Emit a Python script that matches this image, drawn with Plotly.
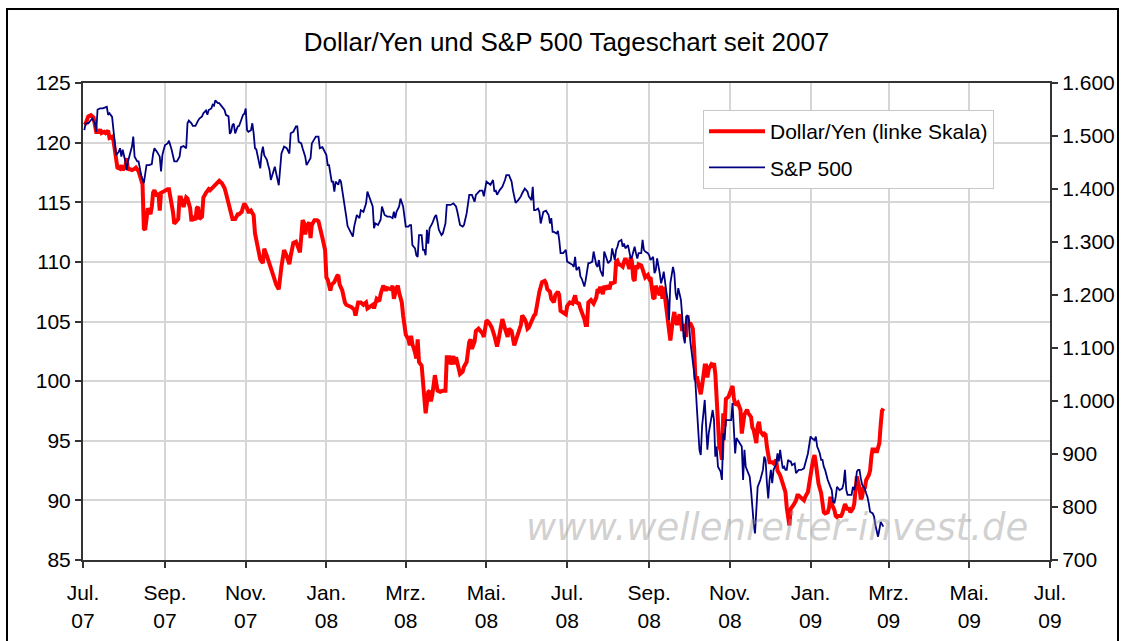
import pandas as pd
import plotly.graph_objects as go

# ---- data ----
start_date = "2007-07-01"

yen_day = [1, 2, 4, 6, 8, 9, 10, 12, 13, 14, 16, 17, 19, 20, 22, 23, 24, 25, 26, 28, 29, 30, 32, 33, 34, 35, 37, 39, 40, 42,
           43, 44, 45, 46, 47, 48, 49, 51, 52, 53, 54, 56, 57, 58, 59, 61, 62, 64, 65, 66, 68, 69, 71, 72, 73, 74, 76, 78, 79, 81,
           82, 83, 85, 86, 87, 88, 90, 91, 93, 95, 96, 97, 98, 100, 101, 102, 103, 105, 106, 107, 108, 110, 111, 112, 113, 115, 116, 117, 118, 120,
           121, 122, 124, 125, 126, 127, 129, 130, 132, 134, 136, 137, 139, 141, 142, 144, 146, 148,
           150, 152, 154, 156, 157, 159, 161, 162, 164, 165, 166, 167, 168, 169, 171, 172, 173, 175, 177, 178, 179, 181, 183, 184, 185, 187,
           188, 190, 192, 193, 194, 196, 198, 199, 201, 203, 205, 206, 208, 210, 212, 214, 215, 217, 219, 220, 222, 224, 225, 227, 229, 230,
           233, 234, 235, 237, 238, 239, 241, 242, 244, 246, 247, 248, 249, 251, 252, 253, 254, 256, 257, 258, 259, 261, 262, 263, 264, 266,
           267, 268, 270, 272, 274, 275, 277, 278, 280, 281, 282, 283, 285, 287, 288, 290, 292, 293, 294, 296, 297, 299,
           302, 303, 305, 307, 309, 311, 313, 314, 316, 317, 319, 321, 322, 324, 326, 328, 329, 331, 332, 334, 335, 336, 337, 339, 341, 342,
           344, 345, 347, 349, 350, 351, 353, 354, 356, 357, 359, 360, 361, 363, 365, 366, 368, 370, 371, 372, 373, 375, 376, 378, 379, 380,
           381, 382, 384, 386, 388, 389, 390, 391, 393, 394, 395, 397, 398, 399, 400, 402, 403, 404, 405, 407, 408, 409, 410, 412, 413, 414,
           415, 416, 417, 418, 419, 420, 422, 423, 424, 425, 427, 428, 429, 431, 432, 433, 434, 436, 437, 438, 439, 441, 442, 443, 444, 446,
           447, 448, 449, 451, 452, 453, 454, 456, 457, 458, 459, 461, 462, 463, 464, 465, 466, 467, 468, 470, 471, 472, 473, 475, 476, 477,
           478, 479, 480, 481, 482, 483, 484, 485, 486, 488, 489, 490, 491, 492, 493, 495, 496, 497, 498, 499, 500, 502, 503, 505, 506, 507,
           509, 510, 511, 512, 514, 515, 516, 517, 518, 519, 521, 522, 524, 525, 526, 527, 529, 530, 531, 532, 534, 535, 536, 537, 539, 540,
           541, 542, 544, 545, 546, 548, 549, 550, 551, 552, 553, 554, 555, 556, 558, 559, 560, 561, 563, 564, 565, 566, 568, 569, 570, 571,
           573, 574, 575, 576, 578, 579, 580, 582, 583, 584, 585, 587, 588, 589, 590, 591, 592, 594, 595, 596, 597, 598, 599, 600, 602, 603,
           604, 605]
yen_val = [121.5, 121.6, 122.2, 122.3, 122.1, 121.6, 120.9, 120.9, 121.1, 120.8, 120.9, 120.8, 121.0, 120.4, 120.5, 120.2, 119.5, 118.8, 117.9, 117.8,
           118.1, 117.7, 118.0, 118.7, 117.7, 117.8, 117.7, 117.8, 117.9, 117.6,
           117.2, 116.9, 116.5, 112.8, 112.7, 113.6, 114.5, 114.0, 114.6, 115.8, 116.0, 115.5, 115.8, 114.3, 115.8, 115.9, 116.0, 116.1, 116.1, 115.5,
           114.2, 113.2, 113.4, 113.6, 115.4, 115.4, 114.6, 115.4, 115.3, 114.5,
           113.4, 113.8, 113.5, 114.5, 114.6, 113.6, 113.8, 115.4, 115.8, 116.1, 116.0, 116.1, 116.2, 116.4, 116.5, 116.6, 116.8, 116.6, 116.4, 116.2,
           115.8, 114.9, 114.5, 114.0, 113.6, 113.6, 113.8, 114.0, 114.0, 114.2,
           114.6, 114.9, 114.5, 114.2, 114.2, 114.3, 113.9, 112.4, 111.3, 110.2, 109.9, 111.1, 110.5, 109.7, 109.5, 108.8, 108.1, 107.7,
           109.6, 111.0, 110.5, 109.8, 110.5, 111.6, 111.7, 111.4, 110.8, 112.1, 113.5, 113.3, 112.3, 113.0, 113.3, 112.0, 113.1, 113.5, 113.5, 113.4,
           113.0, 112.0, 111.0, 108.7, 108.5, 107.6,
           108.1, 108.3, 108.8, 108.9, 108.1, 107.6, 106.6, 106.4, 106.3, 106.2, 106.0, 105.5, 106.6, 106.6, 106.4, 106.6, 106.1, 106.3, 106.4, 106.1,
           106.9, 106.7, 107.3, 108.0, 107.6, 107.8,
           107.7, 108.0, 106.9, 107.8, 108.0, 107.4, 106.6, 105.5, 103.9, 103.5, 103.0, 103.8, 103.1, 102.4, 101.9, 103.5, 101.6, 101.3, 99.6, 98.3,
           97.3, 99.1, 99.2, 98.3, 98.8, 100.5,
           99.6, 99.2, 99.1, 99.2, 99.2, 102.0, 102.0, 101.4, 102.1, 101.4, 102.0, 101.6, 100.6, 100.8, 101.2, 101.6, 103.3, 103.5, 102.7, 103.3,
           104.2, 104.4,
           104.0, 103.7, 105.1, 104.9, 104.5, 103.8, 102.9, 103.4, 104.9, 105.2, 104.4, 103.7, 104.4, 104.2, 103.0, 103.6, 104.1, 104.7, 105.5, 105.2,
           104.9, 104.4, 104.5, 105.1, 105.5, 105.6,
           106.9, 107.5, 108.3, 108.4, 108.2, 107.7, 107.5, 106.9, 106.6, 107.2, 107.5, 107.2, 105.9, 105.7, 105.6, 106.3, 106.6, 106.5, 106.8, 107.2,
           106.6, 106.5, 106.1, 105.6, 105.2, 104.7,
           104.7, 106.6, 106.8, 106.5, 107.0, 107.7, 107.6, 107.9, 107.3, 108.0, 107.7, 108.0, 107.7, 108.2, 108.2, 108.3, 110.0, 110.1, 109.8, 109.7,
           109.6, 110.0, 110.3, 109.8, 109.4, 110.4,
           110.0, 108.6, 108.4, 109.7, 109.4, 109.8, 109.7, 109.4, 109.0, 108.7, 108.9, 108.6, 108.7, 107.0, 106.9, 108.0, 107.7, 107.2, 108.0, 106.9,
           107.9, 106.3, 105.1, 104.7, 103.4, 105.2,
           105.8, 105.1, 104.7, 105.6, 104.9, 104.2, 104.8, 103.7, 105.5, 104.6, 104.9, 104.4, 102.7, 100.1, 100.4, 100.0, 99.6, 98.9, 99.6, 101.3,
           101.3, 100.3, 101.0, 101.4, 101.3, 101.5,
           100.6, 98.7, 96.2, 94.5, 94.2, 93.4, 97.3, 96.2, 98.5, 98.7, 99.0, 99.4, 99.6, 98.6, 98.0, 98.2, 97.9, 97.6, 95.6, 96.6,
           97.2, 97.6, 97.3, 97.0, 96.1, 95.9,
           94.8, 96.2, 96.6, 95.8, 95.5, 95.6, 95.5, 94.5, 93.5, 93.2, 93.2, 93.1, 93.4, 92.5, 92.3, 92.1, 91.4, 91.0, 90.7, 89.4,
           87.9, 89.3, 89.4, 89.6, 90.0, 90.4,
           90.4, 90.3, 90.0, 90.0, 90.3, 90.7, 91.4, 92.3, 92.8, 93.4, 93.8, 93.1, 92.3, 91.4, 90.6, 89.9, 89.0, 88.9, 89.0, 89.4,
           90.3, 89.7, 89.2, 88.7, 88.6, 88.7,
           88.7, 88.9, 89.2, 89.7, 89.2, 89.4, 89.0, 89.3, 89.7, 91.1, 92.0, 91.0, 90.1, 90.3, 91.1, 91.0, 91.7, 92.1, 92.5, 93.7,
           94.4, 94.0, 94.4, 94.0, 94.8, 96.3,
           97.5, 97.7]

spx_day = [1, 2, 4, 6, 7, 9, 10, 11, 13, 15, 18, 19, 20, 22, 23, 24, 25, 27, 28, 29, 30, 32, 33, 34, 35, 37, 38, 39, 41, 42,
           43, 44, 46, 47, 48, 50, 52, 53, 54, 56, 58, 59, 60, 61, 62, 64, 65, 67, 68, 69, 71, 73, 74, 76, 78, 79, 80, 82, 83, 85,
           87, 88, 90, 91, 93, 94, 95, 97, 98, 99, 100, 102, 103, 105, 107, 108, 110, 111, 112, 113, 114, 115, 117, 118, 119, 121, 122, 123, 124, 125,
           127, 128, 129, 130, 131, 132, 133, 134, 135, 136, 137, 139, 140, 141, 142, 144, 145, 146, 148,
           150, 152, 154, 156, 157, 159, 161, 162, 163, 165, 166, 168, 169, 171, 172, 173, 175, 176, 178, 179, 181, 183, 184, 185, 186, 188,
           189, 190, 191, 193, 194, 195, 196, 198, 199, 200, 202, 204, 205, 207, 209, 210, 212, 214, 215, 217, 219, 220, 221, 223, 225, 226,
           228, 230, 232, 234, 235, 236, 237, 239, 240, 242, 244, 246, 247, 248, 249, 251, 252, 253, 254, 256, 257, 258, 259, 260, 261, 262,
           264, 266, 267, 268, 269, 271, 272, 274, 275, 276, 278, 280, 282, 283, 285, 287, 288, 290, 291, 292, 294, 296, 297, 298,
           300, 302, 303, 305, 307, 308, 310, 311, 312, 313, 315, 317, 319, 320, 322, 324, 325, 327, 329, 331, 332, 334, 336, 337, 339, 340,
           341, 342, 344, 345, 346, 348, 350, 352, 353, 354, 355, 356, 358, 359, 360, 361, 363, 365, 366, 368, 370, 371, 372, 373, 375, 376,
           377, 379, 380, 382, 383, 385, 386, 388, 389, 390, 391, 393, 394, 395, 396, 397, 399, 400, 402, 403, 404, 405, 407, 408, 409, 410,
           412, 413, 414, 415, 417, 418, 419, 420, 422, 423, 424, 425, 427, 428, 429, 431, 432, 433, 434, 436, 437, 438, 439, 441, 442, 443,
           444, 446, 447, 448, 449, 450,
           452, 453, 454, 455, 456, 457, 458, 459, 460, 461, 463, 464, 465, 466, 467, 468, 470, 471, 472, 473, 475, 476, 477, 478, 479, 480,
           482, 483, 484, 485, 486, 488, 490, 491, 492, 493, 494, 495, 497, 498, 499, 500, 501, 502, 504, 505, 506, 507, 508, 509, 510, 512,
           513, 514, 515, 516, 517, 518, 519, 520, 521, 522, 524, 525, 526, 527, 528, 529, 530, 531, 532, 533, 534, 535, 536, 538, 539, 541,
           542, 543, 545, 546, 548, 549, 550, 551, 553, 554, 555, 556, 557, 558, 559, 560, 561, 563, 564, 565, 566, 567, 568, 569, 570, 572,
           574, 575, 576, 577, 578, 580, 581, 582, 583, 584, 585, 586, 587, 588, 589, 590, 591, 592, 593, 594, 595, 597, 598, 599, 600, 601,
           602, 603, 605]
spx_val = [1511, 1524, 1524, 1531, 1533, 1524, 1508, 1550, 1552, 1552, 1555, 1540, 1543, 1536, 1508, 1492, 1464, 1470, 1477, 1461,
           1474, 1452, 1436, 1452, 1461, 1480, 1499, 1461, 1452, 1452,
           1439, 1426, 1411, 1430, 1445, 1445, 1447, 1466, 1477, 1470, 1461, 1433, 1464, 1474, 1483, 1486, 1491, 1474, 1464, 1452,
           1452, 1461, 1479, 1481, 1477, 1524, 1529, 1524, 1519, 1519,
           1529, 1533, 1537, 1543, 1548, 1540, 1549, 1552, 1559, 1557, 1567, 1562, 1562, 1555, 1549, 1540, 1537, 1504, 1508, 1521,
           1523, 1505, 1518, 1519, 1527, 1540, 1542, 1552, 1511, 1508,
           1511, 1524, 1505, 1477, 1475, 1461, 1452, 1439, 1467, 1480, 1464, 1455, 1445, 1436, 1417, 1436, 1442, 1430, 1407,
           1467, 1480, 1477, 1467, 1505, 1508, 1518, 1518, 1489, 1486, 1477, 1461, 1445, 1455, 1458, 1486, 1496, 1499, 1499, 1477,
           1479, 1470, 1464, 1445, 1445, 1414,
           1414, 1395, 1414, 1408, 1418, 1414, 1398, 1373, 1348, 1330, 1320, 1310, 1329, 1351, 1345, 1360, 1357, 1373, 1395, 1382,
           1367, 1326, 1335, 1332, 1342, 1367,
           1351, 1348, 1348, 1345, 1357, 1345, 1357, 1367, 1382, 1367, 1329, 1329, 1332, 1332, 1294, 1288, 1275, 1272, 1313, 1313,
           1285, 1285, 1275, 1323, 1297, 1326,
           1335, 1348, 1351, 1338, 1323, 1313, 1316, 1335, 1370, 1370, 1370, 1373, 1367, 1357, 1332, 1329, 1332, 1354, 1370, 1389,
           1389, 1376, 1389, 1392,
           1397, 1397, 1386, 1414, 1411, 1408, 1417, 1395, 1398, 1389, 1398, 1404, 1417, 1426, 1426, 1414, 1398, 1374, 1379, 1386,
           1392, 1401, 1395, 1386, 1379, 1404,
           1360, 1360, 1363, 1357, 1335, 1357, 1359, 1351, 1335, 1345, 1319, 1319, 1316, 1321, 1304, 1279, 1279, 1285, 1263, 1260,
           1257, 1253, 1272, 1247, 1253, 1235,
           1231, 1216, 1228, 1260, 1260, 1263, 1282, 1257, 1253, 1266, 1247, 1235, 1282, 1275, 1266, 1260, 1266, 1288, 1266, 1285,
           1291, 1301, 1304, 1291, 1297, 1288,
           1294, 1282, 1269, 1272, 1291, 1279, 1269, 1279, 1279, 1304, 1285, 1282, 1279, 1275, 1266, 1272, 1241, 1247, 1269, 1241,
           1222, 1231, 1244, 1206, 1191, 1153,
           1222, 1253, 1241, 1203, 1191, 1213,
           1191, 1159, 1121, 1109, 1159, 1162, 1153, 1115, 1096, 1077, 1033, 989, 939, 908, 898, 952, 1002, 952, 908, 939,
           964, 983, 964, 895, 914, 876,
           867, 851, 939, 926, 964, 964, 964, 996, 939, 901, 930, 926, 920, 914, 851, 908, 876, 870, 857, 832,
           794, 769, 750, 807, 838, 851,
           860, 870, 895, 889, 845, 816, 851, 870, 845, 870, 882, 901, 886, 908, 889, 873, 876, 870, 870, 889,
           886, 886, 879, 882, 864, 870,
           870, 870, 873, 882, 901, 917, 933, 930, 926, 933, 914, 908, 901, 889, 889, 876, 870, 851, 842, 838,
           832, 810, 807, 819, 838, 832,
           835, 845, 870, 832, 823, 823, 823, 838, 832, 842, 867, 870, 870, 854, 842, 838, 835, 826, 819, 807,
           791, 788, 782, 766, 753, 744,
           757, 772, 763]

tick_dates = ["2007-07-01", "2007-09-01", "2007-11-01", "2008-01-01", "2008-03-01", "2008-05-01",
              "2008-07-01", "2008-09-01", "2008-11-01", "2009-01-01", "2009-03-01", "2009-05-01", "2009-07-01"]
tick_labels = ["Jul.<br>07", "Sep.<br>07", "Nov.<br>07", "Jan.<br>08", "Mrz.<br>08", "Mai.<br>08",
               "Jul.<br>08", "Sep.<br>08", "Nov.<br>08", "Jan.<br>09", "Mrz.<br>09", "Mai.<br>09", "Jul.<br>09"]

base = pd.Timestamp(start_date)
yen_x = base + pd.to_timedelta(yen_day, unit="D")
spx_x = base + pd.to_timedelta(spx_day, unit="D")

FONT = "Liberation Sans, Arial, sans-serif"
AXIS_COL = "#333333"
GRID_COL = "#d6d6d6"

fig = go.Figure()
fig.add_trace(go.Scatter(x=yen_x, y=yen_val, name="Dollar/Yen (linke Skala)", mode="lines",
                         line=dict(color="#ff0000", width=4), yaxis="y", legendgroup="a"))
fig.add_trace(go.Scatter(x=spx_x, y=spx_val, name="S&P 500", mode="lines",
                         line=dict(color="#000080", width=1.8), yaxis="y2", legendgroup="b"))

W, H = 1123, 641
ml, mr, mt, mb = 83, 73, 83, 81
pw, ph = W - ml - mr, H - mt - mb


def px(x):
    return (x - ml) / pw


def py(y):
    return (H - mb - y) / ph


fig.update_layout(
    width=W, height=H,
    margin=dict(l=ml, r=mr, t=mt, b=mb, pad=0, autoexpand=False),
    paper_bgcolor="white", plot_bgcolor="white",
    separators=",.",
    font=dict(family=FONT, size=20, color="#000000"),
    title=dict(text="Dollar/Yen und S&P 500 Tageschart seit 2007", x=0.5, xref="paper", xanchor="center",
               y=1 - 42 / H, yref="container", yanchor="middle", automargin=False,
               font=dict(family=FONT, size=26, color="#000000")),
    xaxis=dict(type="date", range=[tick_dates[0], tick_dates[-1]], tickmode="array",
               tickvals=tick_dates, ticktext=tick_labels, showgrid=True, gridcolor=GRID_COL, gridwidth=1.5,
               ticks="outside", ticklen=6, tickwidth=1.5, tickcolor=AXIS_COL, ticklabelstandoff=7,
               showline=True, linecolor=AXIS_COL, linewidth=2, mirror=True, zeroline=False, automargin=False,
               tickfont=dict(family=FONT, size=21)),
    yaxis=dict(range=[85, 125], tick0=85, dtick=5, showgrid=True, gridcolor=GRID_COL, gridwidth=1.5,
               ticks="outside", ticklen=6, tickwidth=1.5, tickcolor=AXIS_COL,
               showline=True, linecolor=AXIS_COL, linewidth=2, zeroline=False, automargin=False,
               tickfont=dict(family=FONT, size=21)),
    yaxis2=dict(range=[700, 1600], tick0=700, dtick=100, tickformat=",d", overlaying="y", side="right",
                showgrid=False, ticks="outside", ticklen=6, tickwidth=1.5, tickcolor=AXIS_COL,
                showline=True, linecolor=AXIS_COL, linewidth=2, zeroline=False, automargin=False,
                tickfont=dict(family=FONT, size=21)),
    legend=dict(x=px(703), y=py(110), xanchor="left", yanchor="top", bgcolor="white",
                bordercolor="#c8c8c8", borderwidth=1, font=dict(family=FONT, size=21),
                tracegroupgap=6, itemwidth=56),
    showlegend=True,
)

fig.add_annotation(text="<i>www.wellenreiter-invest.de</i>", xref="paper", yref="paper",
                   x=px(777), y=py(527), xanchor="center", yanchor="middle", showarrow=False,
                   font=dict(family="DejaVu Sans", size=37, color="rgba(150,150,150,0.45)"))

fig.add_shape(type="rect", xref="paper", yref="paper", x0=px(7), x1=px(1118), y0=py(660), y1=py(9),
              line=dict(color="#000000", width=2), fillcolor="rgba(0,0,0,0)", layer="below")

fig.write_html("out.html", include_plotlyjs=True, config={"displayModeBar": False},
               post_script="document.body.style.margin='0';document.body.style.overflow='hidden';")
